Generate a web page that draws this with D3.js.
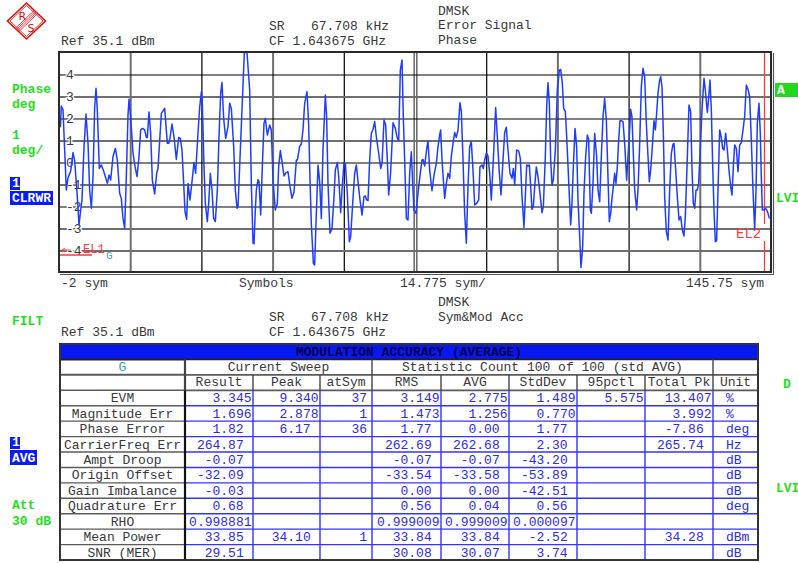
<!DOCTYPE html>
<html>
<head>
<meta charset="utf-8">
<script src="https://cdn.jsdelivr.net/npm/d3@7"></script>
<style>
body { margin: 0; background: #fff; }
svg { display: block; }
text { font-family: "Liberation Mono", "DejaVu Sans Mono", monospace; font-size: 13px; fill: #383838; }
</style>
</head>
<body>
<script>
// phase error trace (symbol, degrees)
var traceSym = [-1.72,-1.52,-1.17,-0.48,-0.13,0.42,0.91,1.25,1.80,2.15,2.50,2.77,3.19,3.60,4.02,4.36,4.71,5.06,5.40,5.68,5.95,6.37,6.78,7.20,7.61,8.03,8.38,8.72,9.21,9.69,10.10,10.59,10.93,11.28,11.63,11.97,12.32,12.53,12.87,13.36,13.84,14.19,14.60,14.95,15.36,15.78,16.12,16.33,16.68,17.02,17.37,17.85,18.27,18.54,19.24,19.93,20.48,20.76,20.96,21.45,21.86,22.35,22.83,23.18,23.52,23.87,24.15,24.49,24.77,25.18,25.60,26.01,26.36,26.84,27.19,27.54,27.74,28.09,28.37,28.78,29.06,29.40,29.75,30.09,30.44,30.86,31.20,31.55,31.82,32.17,32.59,33.07,33.42,33.76,34.25,34.59,34.94,35.15,
  36.46,37.01,37.57,37.91,38.26,38.47,38.74,38.95,39.30,39.50,39.85,40.19,40.54,40.82,41.23,41.72,42.06,42.41,42.89,43.31,43.58,43.93,44.28,44.69,45.11,45.52,45.94,46.35,46.77,47.25,47.46,47.94,48.29,48.63,48.98,49.46,49.81,50.09,50.36,50.78,51.05,51.33,51.75,52.09,52.44,52.78,53.27,53.54,53.82,54.24,54.65,55.07,55.34,55.76,56.04,56.45,56.73,57.14,57.42,57.83,58.25,58.53,58.94,59.36,59.70,60.05,60.46,60.88,61.29,61.57,61.85,62.12,62.47,62.81,63.16,63.51,63.85,64.34,64.75,65.03,65.44,65.79,66.13,66.41,66.83,67.31,67.79,68.21,68.49,68.83,69.18,69.45,69.73,70.08,70.42,70.77,71.11,71.39,71.67,72.08,72.50,
  72.91,73.33,73.54,73.88,74.23,74.57,74.92,75.40,75.82,76.30,76.65,76.99,77.20,77.48,78.03,78.38,78.72,79.07,79.41,79.76,80.11,80.45,80.80,81.21,81.49,81.84,82.18,82.53,82.87,83.22,83.56,83.91,84.26,84.67,85.09,85.36,85.78,86.05,86.33,86.68,87.02,87.37,87.71,88.13,88.61,88.96,89.31,89.72,90.14,90.48,90.83,91.17,91.59,92.00,92.28,92.56,92.97,93.39,93.73,94.08,94.49,94.77,95.05,95.32,95.60,95.88,96.15,96.43,96.71,97.05,97.40,97.81,98.23,98.51,98.92,99.20,99.47,99.75,100.03,100.30,100.58,101.00,101.41,101.83,102.10,102.45,102.72,103.07,103.35,103.76,104.18,104.45,104.73,105.08,105.42,105.70,106.05,106.32,106.67,106.94,107.29,107.64,107.91,108.26,108.47,108.81,109.16,109.57,109.85,
  110.20,110.54,110.89,111.23,111.58,111.92,112.20,112.48,112.75,113.03,113.31,113.58,113.86,114.14,114.41,114.69,115.04,115.38,115.80,116.07,116.42,116.63,116.90,117.18,117.46,117.87,118.15,118.50,118.84,119.19,119.53,119.88,120.23,120.50,120.78,121.12,121.47,121.75,122.02,122.30,122.58,122.85,123.13,123.41,123.68,124.03,124.38,124.72,125.07,125.41,125.62,125.97,126.31,126.66,127.00,127.35,127.69,127.97,128.39,128.73,129.08,129.36,129.63,129.91,130.19,130.46,130.74,131.02,131.43,131.85,132.12,132.54,132.81,133.09,133.37,133.64,133.92,134.20,134.47,134.75,135.10,135.44,135.72,136.00,136.34,136.69,137.03,137.38,137.66,137.93,138.21,138.56,138.90,139.25,139.59,139.94,140.28,140.63,140.98,141.32,141.67,142.01,142.36,142.64,142.91,143.26,143.53,143.74,143.95,144.23,144.57,144.85,145.13,145.40];
var traceDeg = [1.6,2.57,2.4,-1.25,-0.7,-0.4,0.45,0.1,-1.55,-2.84,-2.16,-1.7,0.7,2.2,0.87,-1.25,-2.08,-0.64,2.5,3.37,2.4,-0.27,-0.11,-0.34,-0.64,-0.95,-0.57,-0.8,0.27,0.64,0.11,-1.4,-1.63,-2.54,-3.0,-0.64,2.16,2.87,2.08,0.42,-0.27,-0.64,0.27,1.48,1.55,1.48,1.14,1.14,2.3,1.33,-0.8,-1.43,-0.49,-0.27,2.23,2.46,0.87,0.87,1.02,1.75,1.17,0.14,1.14,1.1,0.57,-0.95,-2.23,-2.58,-0.95,-1.7,-0.87,0,-0.49,1.33,2.5,3.22,2.7,-0.2,-1.86,-2.69,-1.86,-0.49,-1.25,-2.54,-2.69,-1.25,1.17,3.14,3.64,2.0,1.1,1.63,2.69,2.46,0.72,-1.25,-2.08,-2.0,
  5.0,5.0,3.3,-0.95,-3.67,-3.7,-2.16,-1.25,-0.77,-0.87,-2.39,-0.2,1.78,2.0,1.25,1.7,1.48,-0.8,-2.16,-1.86,-0.2,0.54,0.04,-0.61,-0.46,-0.42,-1.1,-1.63,-1.33,0.11,0.11,0.72,0.84,1.48,2.69,3.22,1.7,-0.8,-2.77,-4.58,-4.66,-2.77,-0.11,-0.87,-2.54,0.57,3.07,2.08,-0.95,-3.22,-3.0,-1.55,-0.34,0,-0.64,-2.28,-1.25,0,-0.03,-1.4,-3.6,-3.37,-1.86,-0.49,-0.11,-0.87,-1.7,-2.39,-1.55,-1.52,-1.7,-1.73,0.11,1.33,1.5,1.86,1.17,0.42,-0.27,-0.04,1.93,1.7,0.11,-1.48,-0.42,1.81,1.55,1.1,0.99,4.2,4.66,2.08,0.11,-2.54,-2.61,-0.49,0.49,-0.95,-2.16,-2.31,-1.4,
  -0.6,0.11,0.14,-0.16,0.49,0.99,-0.34,-1.28,-0.57,-0.04,0.72,1.25,1.48,0.11,-1.63,-0.95,-0.49,-0.72,0.27,0.87,1.36,1.14,1.48,2.72,2.31,0.11,-2.31,-3.67,-1.1,0.72,0.95,-0.34,-1.93,-1.86,-1.7,-0.2,-0.11,-0.27,0.11,0.42,0.3,-0.49,-1.7,0.11,2.5,1.17,-0.27,-1.48,0.11,1.36,1.6,0.57,-0.49,-0.72,-0.27,-1.02,0.57,0.53,0.19,-1.55,-2.95,-1.55,-0.11,-0.16,-0.11,-1.1,-2.13,-2.0,-1.1,-0.2,-0.64,-1.4,-2.28,-2.0,0.27,2.54,3.63,2.69,0.11,-1.02,-0.8,0.57,3.3,4.2,4.23,3.6,2.46,2.31,1.17,-0.8,-2.84,-1.86,-0.2,1.55,0.72,-1.7,-3.37,-4.77,-3.83,-1.4,0.27,1.25,1.05,-2.16,-2.31,-0.95,1.33,0.27,-1.25,
  -1.78,0.27,2.08,2.92,1.93,-0.64,-2.69,-2.31,-1.63,-1.1,-0.49,-0.95,-0.2,1.02,1.9,1.9,1.86,0.87,-0.8,0.27,1.48,2.42,2.08,0.42,-1.25,-2.16,-1.25,0.87,3.45,4.28,3.9,1.78,0.27,-0.87,-0.34,0.72,1.9,1.48,2.23,3.14,3.67,3.9,3.45,1.33,-1.55,-3.14,-3.52,-1.25,0.42,0.84,0.87,-0.34,-1.55,-2.61,-2.46,-3.07,-3.34,-2.46,0.27,2.61,2.31,-0.34,-1.86,-2.08,-1.25,-1.25,-0.95,0.42,2.39,3.83,3.3,2.27,2.92,3.75,2.39,-0.04,-2.16,-3.6,-3.56,-1.25,1.48,1.14,0.64,0.57,1.33,0.57,-0.34,-1.1,-1.48,-0.2,0.8,0.64,-0.42,0.8,0.9,1.48,2.08,3.52,3.33,2.99,1.02,-1.25,-3.07,-1.25,1.78,2.69,1.33,-0.64,-2.16,-2.16,-2.08,-2.16,-2.31,-2.54];

var yTicks = [4, 3, 2, 1, 0, -1, -2, -3, -4];
var xStart = -2, xPerDiv = 14.775;

// modulation accuracy table
var rowLabels = ["EVM", "Magnitude Err", "Phase Error", "CarrierFreq Err", "Ampt Droop", "Origin Offset", "Gain Imbalance", "Quadrature Err", "RHO", "Mean Power", "SNR (MER)"];
var colHeads = ["Result", "Peak", "atSym", "RMS", "AVG", "StdDev", "95pctl", "Total Pk", "Unit"];
var result  = ["3.345", "1.696", "1.82", "264.87", "-0.07", "-32.09", "-0.03", "0.68", "0.998881", "33.85", "29.51"];
var peak    = ["9.340", "2.878", "6.17", "", "", "", "", "", "", "34.10", ""];
var atSym   = ["37", "1", "36", "", "", "", "", "", "", "1", ""];
var rms     = ["3.149", "1.473", "1.77", "262.69", "-0.07", "-33.54", "0.00", "0.56", "0.999009", "33.84", "30.08"];
var avg     = ["2.775", "1.256", "0.00", "262.68", "-0.07", "-33.58", "0.00", "0.04", "0.999009", "33.84", "30.07"];
var stdDev  = ["1.489", "0.770", "1.77", "2.30", "-43.20", "-53.89", "-42.51", "0.56", "0.000097", "-2.52", "3.74"];
var pct95   = ["5.575", "", "", "", "", "", "", "", "", "", ""];
var totalPk = ["13.407", "3.992", "-7.86", "265.74", "", "", "", "", "", "34.28", ""];
var units   = ["%", "%", "deg", "Hz", "dB", "dB", "dB", "deg", "", "dBm", "dB"];

var green = '#1fe01f', blue = '#0a1cf5', red = '#ff3a3a';

let svg = d3.select('body').append('svg').attr('width', 798).attr('height', 563);

function txt(x, y, s, fill, extra) {
    let t = svg.append('text').attr('x', x).attr('y', y).text(s);
    if (fill) t.style('fill', fill);
    if (extra) for (let k in extra) t.attr(k, extra[k]);
    return t;
}
function box(x, y, w, h, color, s) {
    svg.append('rect').attr('x', x).attr('y', y).attr('width', w).attr('height', h).attr('fill', color);
    txt(x + 2, y + h - 3, s, '#fff', {'font-weight': 'bold'});
}

// logo
let logo = svg.append('g').attr('transform', 'translate(26.5,21)');
logo.append('path').attr('d', 'M0,-18L19,0L0,18L-19,0Z').attr('fill', 'none').attr('stroke', '#d81010').attr('stroke-width', 1.6);
logo.append('path').attr('d', 'M0,-15.5L16.5,0L0,15.5L-16.5,0Z').attr('fill', 'none').attr('stroke', '#d81010').attr('stroke-width', 0.8);
[-2.4, -0.8, 0.8, 2.4].forEach(function (o) {
    logo.append('line').attr('x1', -9.5 + o * 0.7).attr('y1', 9 + o * 0.7).attr('x2', 9.5 + o * 0.7).attr('y2', -9 + o * 0.7)
        .attr('stroke', '#d81010').attr('stroke-width', 0.8);
});
logo.append('text').attr('x', -8).attr('y', -1).text('R').style('fill', '#d81010').style('font-family', 'DejaVu Sans').style('font-size', '11px');
logo.append('text').attr('x', 1).attr('y', 11).text('S').style('fill', '#d81010').style('font-family', 'DejaVu Sans').style('font-size', '11px');

// header upper
txt(61, 45, 'Ref 35.1 dBm');
txt(269, 30, 'SR');
txt(311, 30, '67.708 kHz');
txt(269, 45, 'CF 1.643675 GHz');
txt(438, 15, 'DMSK');
txt(438, 29, 'Error Signal');
txt(438, 44, 'Phase');

let bold = {'font-weight': 'bold'};
txt(12, 93, 'Phase', green, bold);
txt(12, 108, 'deg', green, bold);
txt(12, 139, '1', green, bold);
txt(12, 154, 'deg/', green, bold);
box(10, 177, 10, 13, blue, '1');
box(10, 191, 43, 14, blue, 'CLRWR');
box(775, 83, 23, 14, '#1fd81f', 'A');
txt(776, 202, 'LVI', green, bold);

// plot
var pl = 59, pr = 771, pt = 52, pb = 272;
let x = d3.scaleLinear().domain([xStart, xStart + 10 * xPerDiv]).range([pl, pr]);
let y = d3.scaleLinear().domain([-5, 5]).range([pb + 0.5, pt + 0.5]);
var xGrid = d3.range(1, 10).map(function (i) { return xStart + i * xPerDiv; });

let gx = svg.append('g').attr('transform', 'translate(0,' + pb + ')')
    .call(d3.axisBottom(x).tickValues(xGrid).tickSize(-(pb - pt)).tickFormat(''));
gx.select('.domain').remove();
gx.selectAll('.tick line').attr('stroke', function (d, i) { return i % 2 === 0 ? '#6e6e6e' : '#000'; })
    .attr('stroke-width', function (d, i) { return i % 2 === 0 ? 2 : 1.2; });
gx.selectAll('.tick').filter(function (d, i) { return i === 4; }).each(function () {
    d3.select(this).select('line').attr('x1', -1.3).attr('x2', -1.3).attr('stroke-width', 1.6);
    d3.select(this).append('line').attr('x1', 1.3).attr('x2', 1.3).attr('y2', -(pb - pt)).attr('stroke', '#6e6e6e').attr('stroke-width', 1.6);
});

var yGrey = [3, 1, -1, -3, -4];
let gy = svg.append('g').attr('transform', 'translate(' + pl + ',0)')
    .call(d3.axisLeft(y).tickValues(yTicks).tickSize(-(pr - pl)).tickFormat(''));
gy.select('.domain').remove();
gy.selectAll('.tick line').attr('stroke', function (d) { return yGrey.indexOf(d) >= 0 ? '#6e6e6e' : '#000'; })
    .attr('stroke-width', function (d) { return yGrey.indexOf(d) >= 0 ? 2 : 1.2; });

let gl = svg.append('g').attr('transform', 'translate(66,0)')
    .call(d3.axisRight(y).tickValues(yTicks).tickSize(0).tickPadding(0).tickFormat(function (d) { return String(d); }));
gl.select('.domain').remove();
gl.selectAll('text').style('font-family', '"Liberation Mono", monospace').style('font-size', '13px').style('fill', '#383838')
    .attr('stroke', '#fff').attr('stroke-width', 2.5).attr('paint-order', 'stroke');

svg.append('clipPath').attr('id', 'clip').append('rect').attr('x', pl).attr('y', pt).attr('width', pr - pl).attr('height', pb - pt);

// markers
svg.append('line').attr('x1', 764.5).attr('x2', 764.5).attr('y1', pt).attr('y2', 224).attr('stroke', red).attr('stroke-width', 1.3);
svg.append('line').attr('x1', 764.5).attr('x2', 764.5).attr('y1', 241).attr('y2', pb).attr('stroke', red).attr('stroke-width', 1.3);

var pts = traceSym.map(function (s, i) { return [s, traceDeg[i]]; });
let line = d3.line().x(function (d) { return x(d[0]); }).y(function (d) { return y(d[1]); });
svg.append('path').attr('d', line(pts)).attr('clip-path', 'url(#clip)')
    .attr('fill', 'none').attr('stroke', '#1f3dff').attr('stroke-width', 1.5).attr('stroke-linejoin', 'round');

txt(736, 238, 'EL2', red).style('font-size', '14px');
svg.append('path').attr('d', 'M62,250L71,250M62,250L65,248M62,250L65,252').attr('stroke', red).attr('fill', 'none').attr('stroke-width', 1);
txt(83, 253, 'EL1', red).style('font-size', '12px');
svg.append('line').attr('x1', pl).attr('x2', 92).attr('y1', 255).attr('y2', 255).attr('stroke', red).attr('stroke-width', 1.3);
txt(106, 259, 'G', '#3aa8a8').style('font-size', '11px');

// frame
svg.append('rect').attr('x', pl).attr('y', pt).attr('width', pr - pl).attr('height', pb - pt)
    .attr('fill', 'none').attr('stroke', '#2a2a2a').attr('stroke-width', 2);
svg.append('path').attr('d', 'M' + (pl + 1) + ',' + (pb + 2.5) + 'H' + (pr + 2.5) + 'V' + (pt + 1))
    .attr('fill', 'none').attr('stroke', '#555').attr('stroke-width', 1.2);

txt(61, 287, '-2 sym');
txt(239, 287, 'Symbols');
txt(400, 287, '14.775 sym/');
txt(686, 287, '145.75 sym');

// header lower
txt(12, 325, 'FILT', green, bold);
txt(269, 321, 'SR');
txt(311, 321, '67.708 kHz');
txt(269, 336, 'CF 1.643675 GHz');
txt(61, 336, 'Ref 35.1 dBm');
txt(438, 306, 'DMSK');
txt(438, 321, 'Sym&Mod Acc');
txt(783, 388, 'D', green, bold);
txt(776, 492, 'LVI', green, bold);
box(10, 437, 10, 12, blue, '1');
box(10, 450, 27, 15, blue, 'AVG');
txt(12, 509, 'Att', green, bold);
txt(12, 525, '30 dB', green, bold);

// table
var tL = 60, tR = 758, tT = 344, rh = 15.43;
var colX = [60, 185, 253, 320, 372, 441, 509, 577, 645, 713, 758];
var cols = [result, peak, atSym, rms, avg, stdDev, pct95, totalPk];
var dataTop = tT + 3 * rh, tB = tT + 14 * rh;
let tb = svg.append('g');

tb.append('rect').attr('x', tL).attr('y', tT).attr('width', tR - tL).attr('height', rh).attr('fill', '#0818f0');
tb.append('text').attr('x', (tL + tR) / 2).attr('y', tT + 11.5).attr('text-anchor', 'middle')
    .style('fill', '#00004a').style('font-weight', 'bold').text('MODULATION ACCURACY (AVERAGE)');

// horizontal lines
for (let r = 1; r <= 13; r++) {
    let yy = tT + r * rh;
    let inData = r >= 3;
    tb.append('line').attr('x1', tL).attr('x2', colX[1]).attr('y1', yy).attr('y2', yy)
        .attr('stroke', r === 1 ? '#222' : '#5a5a5a').attr('stroke-width', r <= 2 ? 2 : 1.4);
    tb.append('line').attr('x1', colX[1]).attr('x2', tR).attr('y1', yy).attr('y2', yy)
        .attr('stroke', inData && r > 3 ? '#3333ff' : (r === 1 ? '#222' : '#5a5a5a')).attr('stroke-width', r <= 3 ? 1.8 : 1.4);
}
// vertical lines
colX.slice(1, -1).forEach(function (cx) {
    let top = (cx === 185 || cx === 372 || cx === 713) ? tT + rh : tT + 2 * rh;
    tb.append('line').attr('x1', cx).attr('x2', cx).attr('y1', top).attr('y2', dataTop)
        .attr('stroke', '#444').attr('stroke-width', cx === 185 ? 2.2 : 1.4);
    tb.append('line').attr('x1', cx).attr('x2', cx).attr('y1', dataTop).attr('y2', tB)
        .attr('stroke', cx === 185 ? '#111' : '#3333ff').attr('stroke-width', cx === 185 ? 2.2 : 1.4);
});
tb.append('rect').attr('x', tL).attr('y', tT).attr('width', tR - tL).attr('height', tB - tT)
    .attr('fill', 'none').attr('stroke', '#333').attr('stroke-width', 2);

tb.append('text').attr('x', (colX[0] + colX[1]) / 2).attr('y', tT + rh + 11.5).attr('text-anchor', 'middle').style('fill', '#3aa8a8').text('G');
tb.append('text').attr('x', (colX[1] + colX[4]) / 2).attr('y', tT + rh + 11.5).attr('text-anchor', 'middle').text('Current Sweep');
tb.append('text').attr('x', (colX[4] + colX[9]) / 2).attr('y', tT + rh + 11.5).attr('text-anchor', 'middle').text('Statistic Count 100 of 100 (std AVG)');

tb.selectAll('text.head').data(colHeads).enter().append('text').attr('class', 'head')
    .attr('x', function (d, i) { return (colX[i + 1] + colX[i + 2]) / 2; })
    .attr('y', tT + 2 * rh + 11.5).attr('text-anchor', 'middle').text(function (d) { return d; });

tb.selectAll('text.lab').data(rowLabels).enter().append('text').attr('class', 'lab')
    .attr('x', (colX[0] + colX[1]) / 2).attr('y', function (d, i) { return dataTop + i * rh + 12; })
    .attr('text-anchor', 'middle').text(function (d) { return d; });

function pad(s) {
    let dec = s.indexOf('.') >= 0 ? s.split('.')[1].length : 0;
    return dec >= 3 ? 1.5 : (dec === 2 ? 9.3 : 5);
}
cols.forEach(function (arr, c) {
    tb.selectAll('text.c' + c).data(arr).enter().append('text').attr('class', 'c' + c)
        .attr('x', function (d) { return colX[c + 2] - pad(d); })
        .attr('y', function (d, i) { return dataTop + i * rh + 12; })
        .attr('text-anchor', 'end').style('fill', '#2a2aee').text(function (d) { return d; });
});
tb.selectAll('text.unit').data(units).enter().append('text').attr('class', 'unit')
    .attr('x', 726).attr('y', function (d, i) { return dataTop + i * rh + 12; })
    .style('fill', '#2a2aee').text(function (d) { return d; });
</script>
</body>
</html>
